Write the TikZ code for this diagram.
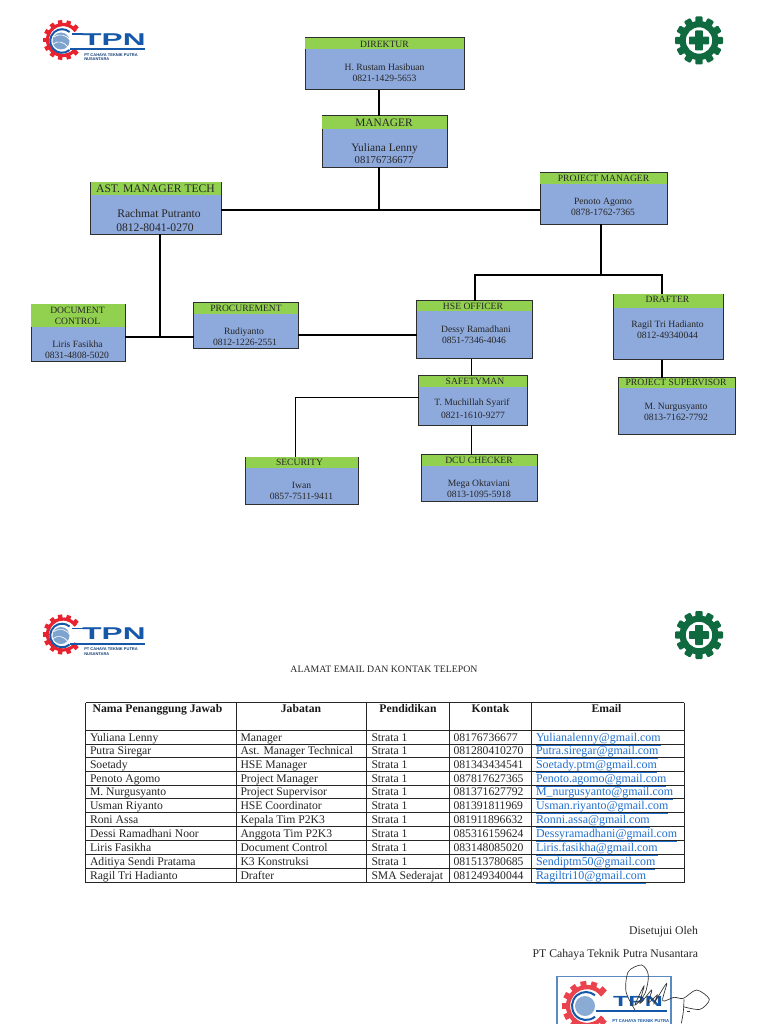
\documentclass[tikz,border=0pt]{standalone}
\usepackage{fontspec}
\setmainfont{Liberation Serif}
\newfontfamily\logofont{Liberation Sans}
\definecolor{hdrgreen}{HTML}{92D050}
\definecolor{bodyblue}{HTML}{8EA9DB}
\definecolor{framegray}{HTML}{2E2E2E}
\definecolor{linkblue}{HTML}{1F6FD0}
\definecolor{k3green}{HTML}{0F6B3F}
\definecolor{tpnblue}{HTML}{1557A8}
\definecolor{tpnred}{HTML}{E8222E}
\tikzset{
  x=0.75pt,y=-0.75pt,
  orgbody/.style={draw=framegray,line width=0.75pt,fill=bodyblue,inner sep=0pt,outer sep=0pt},
  orghead/.style={fill=hdrgreen,inner sep=0pt,outer sep=0pt},
  lbl/.style={inner sep=0pt,outer sep=0pt,anchor=mid,align=center,text=black!85},
  cell/.style={inner sep=0pt,outer sep=0pt,anchor=mid west,font=\fontsize{8.75pt}{10pt}\selectfont,text=black!85},
  emailcell/.style={inner sep=0pt,outer sep=0pt,anchor=mid west,font=\fontsize{8.95pt}{10pt}\selectfont,text=linkblue},
  cellhead/.style={inner sep=0pt,outer sep=0pt,anchor=mid,font=\fontsize{8.75pt}{10pt}\selectfont\bfseries,text=black!90},
  conn/.style={draw=black,line width=1.35pt},
  connthick/.style={draw=black,line width=2pt},
  gridline/.style={draw=black!85,line width=0.7pt},
}
% id, x1, y1, x2, y2, yheader
\newcommand{\orgbox}[6]{%
  \pgfmathsetmacro{\bw}{#4-#2}\pgfmathsetmacro{\bh}{#5-#3}%
  \pgfmathsetmacro{\hh}{#6-#3}\pgfmathsetmacro{\bcx}{(#2+#4)/2}\pgfmathsetmacro{\bcy}{(#3+#5)/2}%
  \pgfmathsetmacro{\hcy}{(#3+#6)/2}%
  \node[orgbody,minimum width=\bw*0.75pt,minimum height=\bh*0.75pt] (#1) at (\bcx,\bcy) {};
  \node[orghead,minimum width=\bw*0.75pt-0.7pt,minimum height=\hh*0.75pt-0.4pt] (#1h) at (\bcx,\hcy) {};
}
\newcommand{\txt}[5]{\pgfmathsetmacro{\ty}{#3+0.6}\node[lbl,font=\fontsize{#4pt}{10pt}\selectfont] (#1) at (#2,\ty) {#5};}
\newcommand{\tpnlogo}{%
  \foreach \a in {45,72,...,320} {
    \fill[tpnred,shift={(63,40)},rotate=\a] (14,-2.2) rectangle (20,2.2);
  }
  \draw[tpnred,line width=2.4pt] ([shift={(35:15.5)}]63,40) arc (35:325:15.5);
  \draw[tpnblue,line width=1.5pt] ([shift={(50:11.8)}]62,41) arc (50:310:11.8);
  \fill[tpnblue!55] (61,41) circle (8.5);
  \draw[white,line width=0.5pt] (54,37) .. controls (60,33) and (66,35) .. (70,40);
  \draw[white,line width=0.5pt] (53,44) .. controls (58,40) and (64,42) .. (68,47);
  \fill[tpnblue] (70,48.2) rectangle (145,50);
  \fill[tpnblue] (72,33.5) -- (83,33.5) -- (83,34.8) -- (72,34.8) -- cycle;
  \node[inner sep=0pt,anchor=mid,xscale=1.85,text=tpnblue,font=\logofont\bfseries\fontsize{12.8pt}{13pt}\selectfont] at (114,42) {TPN};
  \node[inner sep=0pt,anchor=west,align=left,text=tpnblue!70!black,font=\logofont\bfseries\fontsize{3pt}{3.2pt}\selectfont] at (84,57) {PT CAHAYA TEKNIK PUTRA\\NUSANTARA};
}
\newcommand{\kgear}{%
  \foreach \a in {0,30,...,330} {
    \fill[k3green,shift={(699,40.5)},rotate=\a,rounded corners=0.8pt] (-3.6,-24) rectangle (3.6,-15);
  }
  \fill[k3green,even odd rule] (699,40.5) circle (19.5) (699,40.5) circle (13.2);
  \fill[k3green,rounded corners=0.5pt] (695.2,30.5) rectangle (702.8,50.5);
  \fill[k3green,rounded corners=0.5pt] (689,36.7) rectangle (709,44.3);
}
\begin{document}
\begin{tikzpicture}
\useasboundingbox (0,0) rectangle (768,1024);
\fill[white] (0,0) rectangle (768,1024);

% logos
\begin{scope}\tpnlogo\end{scope}
\begin{scope}[shift={(0,594.5)}]\tpnlogo\end{scope}
\begin{scope}\kgear\end{scope}
\begin{scope}[shift={(0,594.5)}]\kgear\end{scope}

% boxes
\orgbox{dir}{305}{38}{464}{90}{49.5}
\orgbox{mgr}{322}{115.5}{447}{167}{129}
\orgbox{ast}{90.5}{182}{221}{234}{195}
\orgbox{pm}{540}{172.5}{667}{224}{184}
\orgbox{doc}{31}{304}{125}{361}{327}
\orgbox{proc}{193.5}{302.5}{298}{348.5}{314}
\orgbox{hse}{416.5}{300.5}{532}{358.5}{311.5}
\orgbox{dra}{613.5}{294}{723}{359.5}{308}
\orgbox{sup}{618.5}{377.5}{735}{434.5}{388.5}
\orgbox{saf}{418.5}{375.5}{527.5}{425}{387}
\orgbox{dcu}{421.5}{454.5}{537.5}{501}{466}
\orgbox{sec}{245.5}{457}{358.5}{504}{468.5}

% connector guide coordinates
\coordinate (xtop) at (379,210);
\coordinate (xast) at (160,337);
\coordinate (xpm) at (601,275);
\coordinate (xhse) at (475,275);
\coordinate (xdra) at (662,275);
\coordinate (xsaf) at (471.5,0);
\coordinate (xsec) at (295.5,397.5);
\coordinate (yproc) at (0,335);

\draw[conn] (xtop |- dir.south) -- (xtop |- mgr.north);
\draw[conn] (xtop |- mgr.south) -- (xtop);
\draw[conn] (ast.east |- xtop) -- (pm.west |- xtop);
\draw[connthick] (xast |- ast.south) -- (xast);
\draw[connthick] (doc.east |- xast) -- (proc.west |- xast);
\draw[connthick] (proc.east |- yproc) -- (hse.west |- yproc);
\draw[conn] (xpm |- pm.south) -- (xpm);
\draw[conn] (xhse |- hse.north) -- (xhse) -- (xdra) -- (xdra |- dra.north);
\draw[conn] (xdra |- dra.south) -- (xdra |- sup.north);
\draw[conn] (xsaf |- hse.south) -- (xsaf |- saf.north);
\draw[conn] (xsaf |- saf.south) -- (xsaf |- dcu.north);
\draw[conn] (saf.west |- xsec) -- (xsec) -- (xsec |- sec.north);

% box texts
\txt{dira}{384.5}{43.5}{7.2}{DIREKTUR}
\txt{dirb}{384.5}{66.5}{7.2}{H. Rustam Hasibuan}
\txt{dirc}{384.5}{77.5}{7.2}{0821-1429-5653}
\txt{mgra}{384}{122.5}{8.5}{MANAGER}
\txt{mgrb}{384.5}{148}{8.5}{Yuliana Lenny}
\txt{mgrc}{384}{159.5}{8}{08176736677}
\txt{asta}{155.5}{188.5}{8.7}{AST. MANAGER TECH}
\txt{astb}{159}{213.5}{8.7}{Rachmat Putranto}
\txt{astc}{155}{228}{8.7}{0812-8041-0270}
\txt{pma}{603.5}{177.5}{7.2}{PROJECT MANAGER}
\txt{pmb}{603}{201}{7.2}{Penoto Agomo}
\txt{pmc}{603}{212}{7.2}{0878-1762-7365}
\txt{doca}{77.5}{309.5}{7.2}{DOCUMENT}
\txt{docd}{77.5}{320.5}{7.2}{CONTROL}
\txt{docb}{77.5}{343.5}{7.2}{Liris Fasikha}
\txt{docc}{77}{354.5}{7.2}{0831-4808-5020}
\txt{proca}{246}{307.5}{7.2}{PROCUREMENT}
\txt{procb}{244}{330.5}{7.2}{Rudiyanto}
\txt{procc}{245}{341.5}{7.2}{0812-1226-2551}
\txt{hsea}{473}{305.5}{7.2}{HSE OFFICER}
\txt{hseb}{476}{328.5}{7.2}{Dessy Ramadhani}
\txt{hsec}{474}{339.5}{7.2}{0851-7346-4046}
\txt{draa}{667.5}{299}{7.2}{DRAFTER}
\txt{drab}{667.5}{323.5}{7.2}{Ragil Tri Hadianto}
\txt{drac}{667.5}{334.5}{7.2}{0812-49340044}
\txt{supa}{676}{382}{7.2}{PROJECT SUPERVISOR}
\txt{supb}{676}{405.5}{7.2}{M. Nurgusyanto}
\txt{supc}{676}{416.5}{7.2}{0813-7162-7792}
\txt{safa}{475}{381}{7.2}{SAFETYMAN}
\txt{safb}{472}{401.5}{7.2}{T. Muchillah Syarif}
\txt{safc}{473}{414.5}{7.2}{0821-1610-9277}
\txt{dcua}{479}{460}{7.2}{DCU CHECKER}
\txt{dcub}{479}{482.5}{7.2}{Mega Oktaviani}
\txt{dcuc}{479}{493.5}{7.2}{0813-1095-5918}
\txt{seca}{299.5}{462}{7.2}{SECURITY}
\txt{secb}{301.5}{484.5}{7.2}{Iwan}
\txt{secc}{301.5}{495.5}{7.2}{0857-7511-9411}

% title
\txt{ttl}{384}{669}{7.35}{ALAMAT EMAIL DAN KONTAK TELEPON}

% table grid
\foreach \yy in {702.7,730,744,757.7,771,785,798.7,812.3,826.7,840.3,854.3,868.3,882.7} {
  \draw[gridline] (85.5,\yy) -- (684,\yy);
}
\foreach \xx in {85.5,236,366.7,449.3,531.7,684} {
  \draw[gridline] (\xx,702.7) -- (\xx,882.7);
}
% table header
\node[cellhead] (tha) at (157.5,709) {Nama Penanggung Jawab};
\node[cellhead] (thb) at (301,709) {Jabatan};
\node[cellhead] (thc) at (408,709) {Pendidikan};
\node[cellhead] (thd) at (490.5,709) {Kontak};
\node[cellhead] (the) at (606.5,709) {Email};
% table rows
\foreach \yy/\na/\jb/\pd/\kt/\em [count=\i] in {
 738/Yuliana Lenny/Manager/Strata 1/08176736677/Yulianalenny@gmail.com,
 751/Putra Siregar/Ast. Manager Technical/Strata 1/081280410270/Putra.siregar@gmail.com,
 765/Soetady/HSE Manager/Strata 1/081343434541/Soetady.ptm@gmail.com,
 779/Penoto Agomo/Project Manager/Strata 1/087817627365/Penoto.agomo@gmail.com,
 792/M. Nurgusyanto/Project Supervisor/Strata 1/081371627792/M\_nurgusyanto@gmail.com,
 806/Usman Riyanto/HSE Coordinator/Strata 1/081391811969/Usman.riyanto@gmail.com,
 820/Roni Assa/Kepala Tim P2K3/Strata 1/081911896632/Ronni.assa@gmail.com,
 834/Dessi Ramadhani Noor/Anggota Tim P2K3/Strata 1/085316159624/Dessyramadhani@gmail.com,
 848/Liris Fasikha/Document Control/Strata 1/083148085020/Liris.fasikha@gmail.com,
 862/Aditiya Sendi Pratama/K3 Konstruksi/Strata 1/081513780685/Sendiptm50@gmail.com,
 876/Ragil Tri Hadianto/Drafter/SMA Sederajat/081249340044/Ragiltri10@gmail.com} {
  \node[cell] (ra\i) at (90,\yy) {\na};
  \node[cell] (rb\i) at (240.5,\yy) {\jb};
  \node[cell] (rc\i) at (371.5,\yy) {\pd};
  \node[cell] (rd\i) at (453.5,\yy) {\kt};
  \node[emailcell] (re\i) at (536,\yy) {\underline{\em}};
}

% signature block
\node[lbl,anchor=mid east,font=\fontsize{8.8pt}{10pt}\selectfont] (sg1) at (698,931) {Disetujui Oleh};
\node[lbl,anchor=mid east,font=\fontsize{8.8pt}{10pt}\selectfont] (sg2) at (698,954) {PT Cahaya Teknik Putra Nusantara};

% stamp
\begin{scope}
\clip (540,970) rectangle (730,1024);
\draw[tpnblue!70,line width=1pt] (557,1030) -- (557,976.5) -- (671,976.5) -- (671,1030);
\foreach \a in {45,72,...,320} {
  \fill[tpnred!85,shift={(587,1006)},rotate=\a] (17,-3) rectangle (25,3);
}
\draw[tpnred!85,line width=3.2pt] ([shift={(35:19)}]587,1006) arc (35:325:19);
\draw[tpnblue,line width=1.5pt] ([shift={(50:14)}]586,1006) arc (50:310:14);
\fill[tpnblue!50] (585,1006) circle (10);
\node[inner sep=0pt,anchor=mid,xscale=1.7,text=tpnblue,font=\logofont\bfseries\fontsize{11pt}{12pt}\selectfont] at (638,1003.5) {TPN};
\fill[tpnblue] (596,1010) rectangle (667,1012);
\node[inner sep=0pt,anchor=west,text=tpnblue,font=\logofont\bfseries\fontsize{3.2pt}{4pt}\selectfont] at (612,1021) {PT CAHAYA TEKNIK PUTRA};
\end{scope}
\begin{scope}[shift={(520,910)},x=0.25pt,y=-0.25pt]
\draw[black!80,line width=0.5pt] plot[smooth] coordinates {(345,300)(318,245)(325,185)(365,165)(385,195)(375,250)(345,285)(372,228)(360,280)(395,240)(385,278)(412,255)(402,280)(440,220)(428,272)(462,262)(490,265)(530,240)(568,268)(540,298)(490,290)};
\draw[black!80,line width=0.5pt] plot[smooth] coordinates {(492,268)(490,305)(484,340)};
\draw[black!80,line width=0.7pt] (500,303) -- (510,303);
\end{scope}
\end{tikzpicture}
\end{document}
